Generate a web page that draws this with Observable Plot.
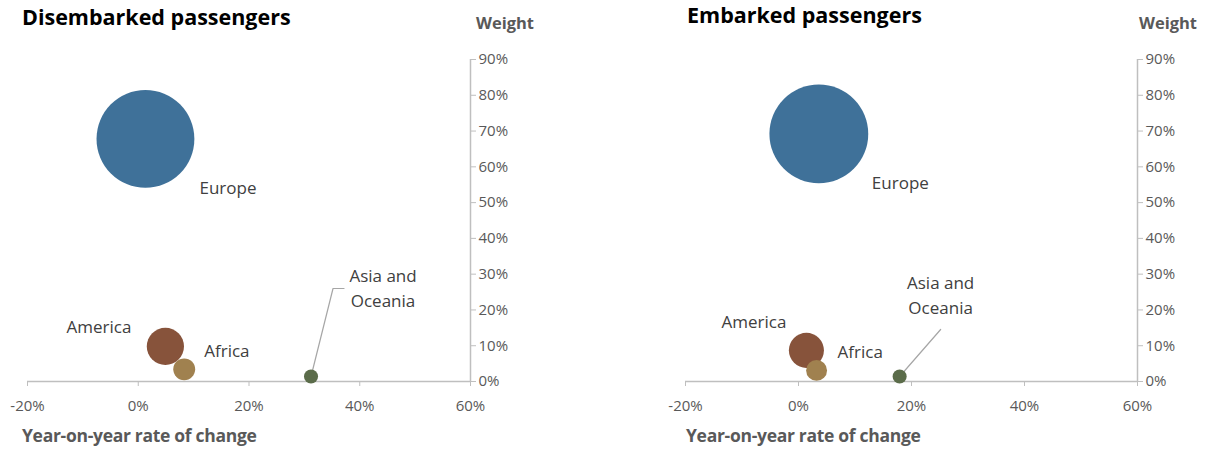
<!DOCTYPE html>
<html><head><meta charset="utf-8">
<script src="https://cdn.jsdelivr.net/npm/d3@7"></script>
<script src="https://cdn.jsdelivr.net/npm/@observablehq/plot@0.6"></script>
<style>
body{margin:0;background:#fff;font-family:"Open Sans",sans-serif;}
#wrap{position:relative;width:1206px;height:452px;overflow:hidden;background:#fff}
.panel{position:absolute;top:0;width:603px;height:452px}
.title{position:absolute;font-weight:bold;font-size:21.5px;line-height:1;color:#000;white-space:nowrap}
.ylab{position:absolute;font-weight:bold;font-size:16.5px;line-height:1;color:#595959;white-space:nowrap;transform:translateX(-50%)}
.xlab{position:absolute;font-weight:bold;font-size:17.5px;line-height:1;color:#595959;white-space:nowrap;letter-spacing:-0.3px}
</style>
</head><body>
<div id="wrap">
  <div class="panel" id="left"></div>
  <div class="panel" id="right" style="left:603px"></div>
  <div class="title" style="left:22px;top:6px">Disembarked passengers</div>
  <div class="title" style="left:687px;top:4px">Embarked passengers</div>
  <div class="ylab" style="left:505px;top:15px">Weight</div>
  <div class="ylab" style="left:1168px;top:15px">Weight</div>
  <div class="xlab" style="left:22px;top:427px">Year-on-year rate of change</div>
  <div class="xlab" style="left:686px;top:427px">Year-on-year rate of change</div>
</div>
<script>
// ---- data ----
const regions = ["Europe", "Africa", "America", "Asia and Oceania"];
const regionLabels = ["Europe", "Africa", "America", "Asia and\nOceania"];
const regionColors = ["#3f7199", "#a0814f", "#87533b", "#5b6c4a"];
const disembarkedChange = [0.013, 0.083, 0.049, 0.312];
const disembarkedWeight = [0.678, 0.034, 0.098, 0.014];
const embarkedChange = [0.036, 0.032, 0.014, 0.179];
const embarkedWeight = [0.692, 0.031, 0.087, 0.014];
const xTicks = [-0.2, 0, 0.2, 0.4, 0.6];
const yTicks = [0, 0.1, 0.2, 0.3, 0.4, 0.5, 0.6, 0.7, 0.8, 0.9];

// ---- layout / styling config ----
const pct = d => Math.round(d * 100) + "%";
const leftCfg = {
  ml: 27, mr: 133, mt: 59, mb: 71,
  labels: {
    "Europe": {dx: 54, dy: 47, anchor: "start"},
    "America": {dx: -34, dy: -22, anchor: "end"},
    "Africa": {dx: 20, dy: -21, anchor: "start"},
    "Asia and Oceania": {dx: 72, dy: -90, anchor: "middle"}
  },
  leader: {region: "Asia and Oceania", pts: [[0, 0], [22, -88], [33, -88]]}
};
const rightCfg = {
  ml: 82, mr: 69, mt: 59, mb: 71,
  labels: {
    "Europe": {dx: 53, dy: 47, anchor: "start"},
    "America": {dx: -20, dy: -31, anchor: "end"},
    "Africa": {dx: 21, dy: -21, anchor: "start"},
    "Asia and Oceania": {dx: 41, dy: -83, anchor: "middle"}
  },
  leader: {region: "Asia and Oceania", pts: [[0, 0], [41, -47]]}
};

function panel(change, weight, cfg) {
  const W = 603, H = 452;
  const data = regions.map((r, i) => ({region: r, label: regionLabels[i], x: change[i], y: weight[i]}));
  const xs = d3.scaleLinear([-0.2, 0.6], [cfg.ml, W - cfg.mr]);
  const ys = d3.scaleLinear([0, 0.9], [H - cfg.mb, cfg.mt]);
  const ld = data.find(d => d.region === cfg.leader.region);
  const leaderPts = cfg.leader.pts.map(([px, py]) => ({
    x: xs.invert(xs(ld.x) + px), y: ys.invert(ys(ld.y) + py)
  }));
  const labelMarks = data.map(d => {
    const c = cfg.labels[d.region];
    return Plot.text([d], {x: "x", y: "y", text: "label", dx: c.dx, dy: c.dy, textAnchor: c.anchor,
      lineHeight: 1.5, fill: "#404040", fontSize: 17});
  });
  return Plot.plot({
    width: W, height: H,
    marginLeft: cfg.ml, marginRight: cfg.mr, marginTop: cfg.mt, marginBottom: cfg.mb,
    style: {fontFamily: "'Open Sans', sans-serif", fontSize: "15px", background: "transparent", overflow: "visible"},
    x: {domain: [-0.2, 0.6]},
    y: {domain: [0, 0.9]},
    r: {type: "sqrt", domain: [0, 1], range: [0, 59.4]},
    color: {domain: regions, range: regionColors},
    marks: [
      Plot.ruleY([0], {stroke: "#bfbfbf", strokeWidth: 1.5}),
      Plot.ruleX([0.6], {stroke: "#bfbfbf", strokeWidth: 1.5}),
      Plot.axisX(xTicks, {tickSize: 5, tickPadding: 14, stroke: "#bfbfbf", fill: "#595959", tickFormat: pct, label: null, fontSize: 15}),
      Plot.axisY(yTicks, {anchor: "right", tickSize: 5, tickPadding: 3, stroke: "#bfbfbf", fill: "#595959", tickFormat: pct, label: null, fontSize: 15}),
      Plot.line(leaderPts, {x: "x", y: "y", stroke: "#a6a6a6", strokeWidth: 1.2}),
      Plot.dot(data, {x: "x", y: "y", r: "y", fill: "region", stroke: "none", fillOpacity: 1}),
      ...labelMarks
    ]
  });
}

document.getElementById("left").appendChild(panel(disembarkedChange, disembarkedWeight, leftCfg));
document.getElementById("right").appendChild(panel(embarkedChange, embarkedWeight, rightCfg));
</script>
</body></html>
